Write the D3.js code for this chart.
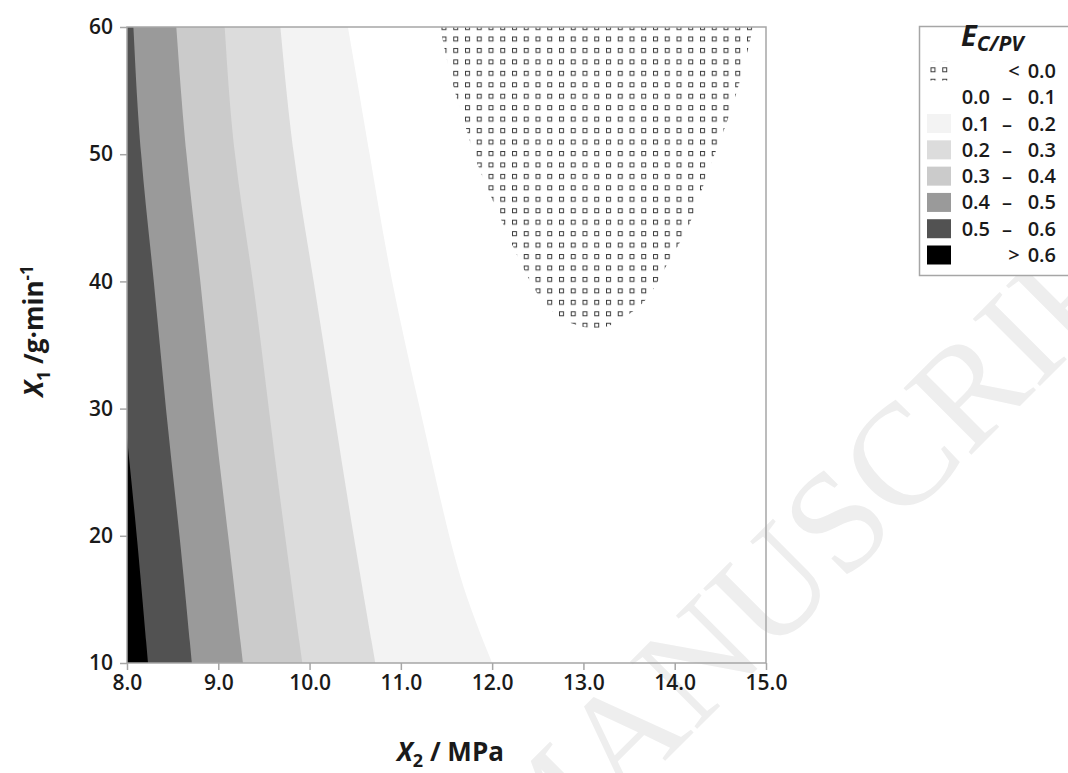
<!DOCTYPE html>
<html>
<head>
<meta charset="utf-8">
<script src="https://cdn.jsdelivr.net/npm/d3@7"></script>
<style>
body { margin: 0; background: #fff; }
text { font-family: "Open Sans", sans-serif; fill: #1a1a1a; }
</style>
</head>
<body>
<div id="chart"></div>
<script>
// X2 = pressure / MPa, X1 = flow / g.min-1
var pressureTicks = [8, 9, 10, 11, 12, 13, 14, 15];
var flowTicks = [10, 20, 30, 40, 50, 60];

// iso-lines of E_C/PV, as [X1, X2]
var iso06 = [[10, 8.23], [20, 8.11], [27.7, 8.0]];
var iso05 = [[10, 8.71], [20, 8.58], [30, 8.42], [40, 8.30], [50, 8.14], [60, 8.07]];
var iso04 = [[10, 9.27], [20, 9.11], [30, 8.94], [40, 8.81], [50, 8.64], [60, 8.54]];
var iso03 = [[10, 9.92], [20, 9.73], [30, 9.55], [40, 9.39], [50, 9.16], [60, 9.07]];
var iso02 = [[10, 10.72], [20, 10.48], [30, 10.26], [40, 10.05], [50, 9.81], [60, 9.68]];
var iso01 = [[10, 12.0], [15, 11.72], [20, 11.52], [30, 11.21], [40, 10.89], [50, 10.66], [60, 10.42]];
// closed E = 0 line, negative inside
var iso00 = [[60, 11.43], [55.7, 11.55], [52, 11.72], [49.4, 11.82], [46.8, 11.98], [44, 12.15],
    [41.3, 12.32], [38.5, 12.52], [37, 12.75], [36.3, 13.0], [36.3, 13.25], [37, 13.42],
    [38.5, 13.72], [41.3, 13.9], [44, 14.15], [46.8, 14.28], [49.4, 14.4], [52, 14.55],
    [55.7, 14.72], [60, 14.86]];

var bandLabels = [['<', '0.0'], ['0.0', '0.1'], ['0.1', '0.2'], ['0.2', '0.3'], ['0.3', '0.4'],
    ['0.4', '0.5'], ['0.5', '0.6'], ['>', '0.6']];
var bandColors = ['neg', '#ffffff', '#f3f3f3', '#dcdcdc', '#cbcbcb', '#9a9a9a', '#525252', '#000000'];

var width = 1068, height = 773;
var plotL = 127, plotR = 766, plotT = 27, plotB = 663;

var svg = d3.select('#chart').append('svg')
    .attr('width', width)
    .attr('height', height);

var x = d3.scaleLinear().domain([8, 15]).range([plotL, plotR]);
var y = d3.scaleLinear().domain([10, 60]).range([plotB, plotT]);

var defs = svg.append('defs');
defs.append('clipPath').attr('id', 'plotClip')
    .append('rect')
    .attr('x', plotL).attr('y', plotT)
    .attr('width', plotR - plotL).attr('height', plotB - plotT);

function addPattern(id, ox, oy) {
    var p = defs.append('pattern')
        .attr('id', id)
        .attr('patternUnits', 'userSpaceOnUse')
        .attr('x', ox).attr('y', oy)
        .attr('width', 11.75).attr('height', 11.45);
    p.append('rect')
        .attr('x', 0.5).attr('y', 0.5)
        .attr('width', 4).attr('height', 4)
        .style('fill', '#fff')
        .style('stroke', '#3c3c3c')
        .style('stroke-width', 1);
}
addPattern('negPlot', 441.5, 36.5);
addPattern('negKey', 930.5, 65);

// watermark
svg.append('text')
    .attr('transform', 'translate(1190,236) rotate(-45)')
    .attr('text-anchor', 'end')
    .style('font-family', '"Liberation Serif", serif')
    .style('font-size', '145px')
    .style('fill', '#eeeeee')
    .text('ACCEPTED MANUSCRIPT');

// region left of an iso-line: from X2 = 8 out to the line
var band = d3.area()
    .y(function (d) { return y(d[0]); })
    .x0(x(8))
    .x1(function (d) { return x(d[1]); })
    .curve(d3.curveBasis);

var loop = d3.line()
    .x(function (d) { return x(d[1]); })
    .y(function (d) { return y(d[0]); })
    .curve(d3.curveBasis);

var plot = svg.append('g').attr('clip-path', 'url(#plotClip)');
var levels = [iso01, iso02, iso03, iso04, iso05, iso06];

plot.selectAll('path.band')
    .data(levels)
    .enter()
    .append('path')
    .attr('class', 'band')
    .attr('d', band)
    .style('fill', function (d, i) { return bandColors[i + 2]; })
    .style('stroke', 'none');

plot.append('path')
    .attr('d', loop(iso00) + 'Z')
    .style('fill', 'url(#negPlot)')
    .style('stroke', 'none');

// frame + axes
svg.append('rect')
    .attr('x', plotL).attr('y', plotT)
    .attr('width', plotR - plotL).attr('height', plotB - plotT)
    .style('fill', 'none')
    .style('stroke', '#a6a6a6')
    .style('stroke-width', 1.5);

var yAxis = svg.append('g')
    .attr('transform', 'translate(' + plotL + ',0)')
    .call(d3.axisLeft(y).tickValues(flowTicks).tickSize(7).tickPadding(7).tickFormat(d3.format('d')));
var xAxis = svg.append('g')
    .attr('transform', 'translate(0,' + plotB + ')')
    .call(d3.axisBottom(x).tickValues(pressureTicks).tickSize(7).tickPadding(5).tickFormat(d3.format('.1f')));

[xAxis, yAxis].forEach(function (g) {
    g.select('.domain').remove();
    g.selectAll('line').style('stroke', '#a6a6a6').style('stroke-width', 1.5);
    g.selectAll('text')
        .style('font-family', '"Open Sans", sans-serif')
        .style('font-size', '21px')
        .style('font-weight', 600)
        .style('fill', '#1a1a1a');
});

// axis titles
var xt = svg.append('text')
    .attr('x', (plotL + plotR) / 2 + 4)
    .attr('y', 761)
    .attr('text-anchor', 'middle')
    .style('font-size', '26px')
    .style('font-weight', 'bold');
xt.append('tspan').style('font-style', 'italic').text('X');
xt.append('tspan').attr('dy', 6).style('font-size', '18px').text('2');
xt.append('tspan').attr('dy', -6).text(' / MPa');

var yt = svg.append('text')
    .attr('transform', 'translate(43,331) rotate(-90)')
    .attr('text-anchor', 'middle')
    .style('font-size', '26px')
    .style('font-weight', 'bold');
yt.append('tspan').style('font-style', 'italic').text('X');
yt.append('tspan').attr('dy', 7).style('font-size', '18px').text('1');
yt.append('tspan').attr('dy', -7).text(' /g\u00b7min');
yt.append('tspan').attr('dy', -10).style('font-size', '17px').text('-1');

// legend
var key = svg.append('g');
key.append('rect')
    .attr('x', 919.5).attr('y', 26.5)
    .attr('width', 170).attr('height', 249)
    .style('fill', '#fff')
    .style('stroke', '#a6a6a6')
    .style('stroke-width', 1.5);

var title = key.append('text')
    .attr('x', 961).attr('y', 46)
    .style('font-weight', 'bold')
    .style('font-style', 'italic')
    .style('font-size', '29px');
title.append('tspan').text('E');
title.append('tspan').attr('dy', 5).style('font-size', '21px').text('C/PV');

var rowY = d3.scaleLinear().domain([0, 7]).range([71, 255]);

var rows = key.selectAll('g.row')
    .data(bandLabels)
    .enter()
    .append('g')
    .attr('class', 'row')
    .attr('transform', function (d, i) { return 'translate(0,' + rowY(i) + ')'; });

rows.append('rect')
    .attr('x', 927).attr('y', -9.5)
    .attr('width', 24).attr('height', 19)
    .style('fill', function (d, i) { return i === 0 ? 'url(#negKey)' : bandColors[i]; });

function isSign(d) { return d[0] === '<' || d[0] === '>'; }

rows.append('text')
    .attr('x', function (d) { return isSign(d) ? 1014 : 990; })
    .attr('y', 7)
    .attr('text-anchor', function (d) { return isSign(d) ? 'middle' : 'end'; })
    .style('font-size', '20px')
    .style('font-weight', 600)
    .text(function (d) { return d[0]; });

rows.filter(function (d) { return !isSign(d); })
    .append('text')
    .attr('x', 1007).attr('y', 7)
    .attr('text-anchor', 'middle')
    .style('font-size', '20px')
    .style('font-weight', 600)
    .text('\u2013');

rows.append('text')
    .attr('x', 1056).attr('y', 7)
    .attr('text-anchor', 'end')
    .style('font-size', '20px')
    .style('font-weight', 600)
    .text(function (d) { return d[1]; });
</script>
</body>
</html>
